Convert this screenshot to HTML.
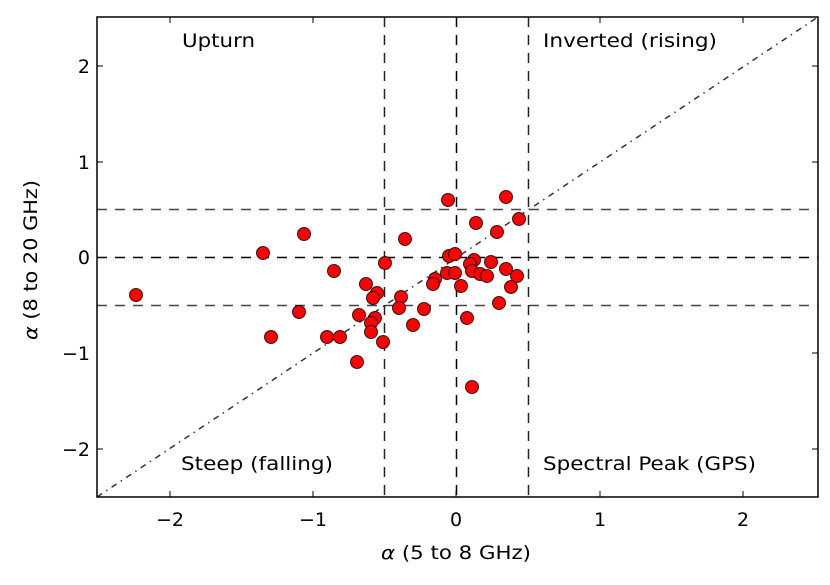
<!DOCTYPE html>
<html><head><style>body{margin:0;background:#fff}svg{display:block;font-family:"DejaVu Sans","Liberation Sans",sans-serif}</style></head><body>
<svg width="830" height="585" viewBox="0 0 830 585">
<defs><clipPath id="c"><rect x="97" y="17" width="721" height="480"/></clipPath></defs>
<g clip-path="url(#c)">
<line x1="97" y1="497" x2="818" y2="17" stroke="#333" stroke-width="1.5" stroke-dasharray="6,5,1.5,5"/>
<g stroke-dasharray="10,8" stroke-width="1.5">
<line x1="97" y1="209.5" x2="818" y2="209.5" stroke="#444"/>
<line x1="97" y1="305.5" x2="818" y2="305.5" stroke="#444"/>
<line x1="97" y1="257.5" x2="818" y2="257.5" stroke="#000"/>
<line x1="384.5" y1="17" x2="384.5" y2="497" stroke="#222"/>
<line x1="528.5" y1="17" x2="528.5" y2="497" stroke="#222"/>
<line x1="456.5" y1="17" x2="456.5" y2="497" stroke="#000"/>
</g>
<g fill="#f00" stroke="#000" stroke-width="1" stroke-opacity="0.8">
<circle cx="448" cy="200" r="6.5"/><circle cx="506" cy="197" r="6.5"/><circle cx="476" cy="223" r="6.5"/><circle cx="519" cy="219" r="6.5"/><circle cx="497" cy="232" r="6.5"/><circle cx="304" cy="234" r="6.5"/><circle cx="405" cy="239" r="6.5"/><circle cx="263" cy="253" r="6.5"/><circle cx="385" cy="263" r="6.5"/><circle cx="449" cy="256" r="6.5"/><circle cx="455" cy="254" r="6.5"/><circle cx="474" cy="260" r="6.5"/><circle cx="491" cy="262" r="6.5"/><circle cx="470" cy="264" r="6.5"/><circle cx="334" cy="271" r="6.5"/><circle cx="447" cy="273" r="6.5"/><circle cx="455" cy="273" r="6.5"/><circle cx="472" cy="271" r="6.5"/><circle cx="480" cy="274" r="6.5"/><circle cx="487" cy="276" r="6.5"/><circle cx="506" cy="269" r="6.5"/><circle cx="517" cy="276" r="6.5"/><circle cx="511" cy="287" r="6.5"/><circle cx="435" cy="279" r="6.5"/><circle cx="433" cy="284" r="6.5"/><circle cx="461" cy="286" r="6.5"/><circle cx="366" cy="284" r="6.5"/><circle cx="377" cy="293" r="6.5"/><circle cx="373" cy="298" r="6.5"/><circle cx="401" cy="297" r="6.5"/><circle cx="399" cy="308" r="6.5"/><circle cx="424" cy="309" r="6.5"/><circle cx="499" cy="303" r="6.5"/><circle cx="299" cy="312" r="6.5"/><circle cx="359" cy="315" r="6.5"/><circle cx="375" cy="318" r="6.5"/><circle cx="371" cy="323" r="6.5"/><circle cx="413" cy="325" r="6.5"/><circle cx="467" cy="318" r="6.5"/><circle cx="371" cy="332" r="6.5"/><circle cx="271" cy="337" r="6.5"/><circle cx="327" cy="337" r="6.5"/><circle cx="340" cy="337" r="6.5"/><circle cx="383" cy="342" r="6.5"/><circle cx="357" cy="362" r="6.5"/><circle cx="472" cy="387" r="6.5"/><circle cx="136" cy="295" r="6.5"/>
</g>
</g>
<rect x="97" y="17" width="721" height="480" fill="none" stroke="#000" stroke-width="1.5"/>
<g stroke="#000" stroke-width="1">
<line x1="170" y1="497" x2="170" y2="491"/><line x1="313" y1="497" x2="313" y2="491"/><line x1="456" y1="497" x2="456" y2="491"/><line x1="600" y1="497" x2="600" y2="491"/><line x1="743" y1="497" x2="743" y2="491"/>
<line x1="170" y1="17" x2="170" y2="23"/><line x1="313" y1="17" x2="313" y2="23"/><line x1="600" y1="17" x2="600" y2="23"/><line x1="743" y1="17" x2="743" y2="23"/>
<line x1="97" y1="66" x2="103" y2="66"/><line x1="97" y1="162" x2="103" y2="162"/><line x1="97" y1="449" x2="103" y2="449"/>
<line x1="818" y1="66" x2="812" y2="66"/><line x1="818" y1="162" x2="812" y2="162"/><line x1="818" y1="353" x2="812" y2="353"/><line x1="818" y1="449" x2="812" y2="449"/>
</g>
<g font-size="19" fill="#000" text-anchor="middle">
<text x="170" y="526">−2</text><text x="313" y="526">−1</text><text x="456" y="526">0</text><text x="600" y="526">1</text><text x="743" y="526">2</text>
</g>
<g font-size="19" fill="#000" text-anchor="end">
<text x="90" y="73">2</text><text x="90" y="169">1</text><text x="90" y="264">0</text><text x="90" y="360">−1</text><text x="90" y="456">−2</text>
</g>
<g font-size="19" fill="#000">
<text x="182" y="47" textLength="73" lengthAdjust="spacingAndGlyphs">Upturn</text>
<text x="543" y="47" textLength="174" lengthAdjust="spacingAndGlyphs">Inverted (rising)</text>
<text x="181" y="470" textLength="152" lengthAdjust="spacingAndGlyphs">Steep (falling)</text>
<text x="543" y="470" textLength="213" lengthAdjust="spacingAndGlyphs">Spectral Peak (GPS)</text>
</g>
<text x="381" y="559" font-size="19" textLength="150" lengthAdjust="spacingAndGlyphs"><tspan font-style="italic">α</tspan> (5 to 8 GHz)</text>
<text transform="translate(37,340) rotate(-90)" font-size="19" textLength="160" lengthAdjust="spacingAndGlyphs"><tspan font-style="italic">α</tspan> (8 to 20 GHz)</text>
</svg>
</body></html>
